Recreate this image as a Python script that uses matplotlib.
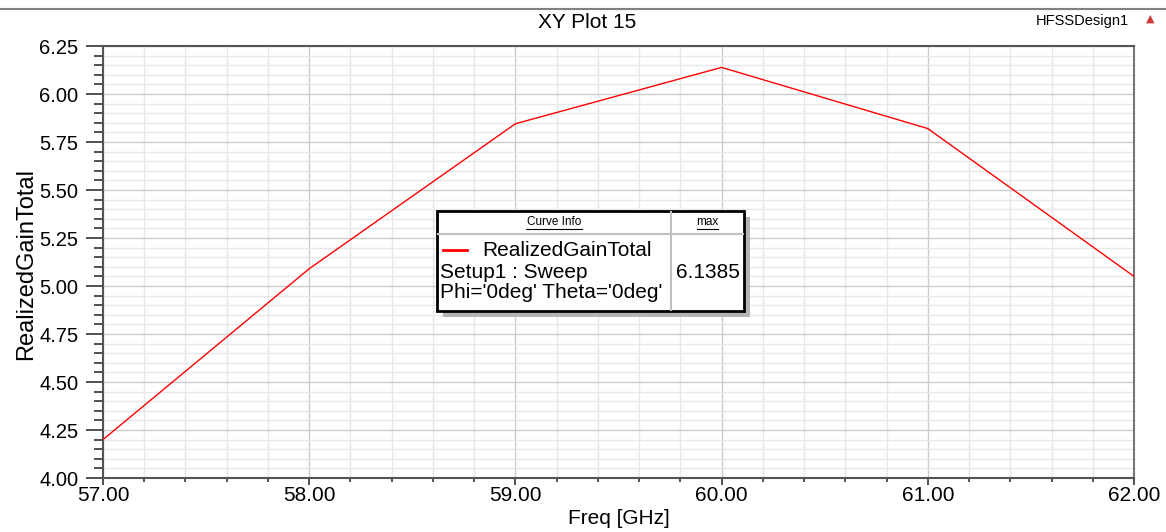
import numpy as np
import matplotlib
matplotlib.use("Agg")
import matplotlib.pyplot as plt
from matplotlib.patches import Rectangle
from matplotlib.lines import Line2D
from matplotlib.ticker import FormatStrFormatter, MultipleLocator

# ---- data ----
freq_ghz = [57.0, 58.0, 59.0, 60.0, 61.0, 62.0]
realized_gain = [4.20, 5.09, 5.845, 6.1385, 5.82, 5.05]
curve_name = "RealizedGainTotal"
setup_text = "Setup1 : Sweep"
var_text = "Phi='0deg' Theta='0deg'"
max_value = "6.1385"

plt.rcParams['font.family'] = ['Liberation Sans', 'DejaVu Sans']

W, H = 1166, 532
fig = plt.figure(figsize=(W / 100, H / 100), dpi=100)
fig.patch.set_facecolor('white')


def fx(x):
    return x / W


def fy(y):
    return 1 - y / H


ax = fig.add_axes([fx(103), fy(478), (1134 - 103) / W, (478 - 46) / H])
ax.plot(freq_ghz, realized_gain, color='#ff0000', lw=1.0, zorder=3)

ax.set_xlim(57, 62)
ax.set_ylim(4.0, 6.25)
ax.xaxis.set_major_locator(MultipleLocator(1.0))
ax.xaxis.set_minor_locator(MultipleLocator(0.2))
ax.yaxis.set_major_locator(MultipleLocator(0.25))
ax.yaxis.set_minor_locator(MultipleLocator(0.05))
ax.xaxis.set_major_formatter(FormatStrFormatter('%.2f'))
ax.yaxis.set_major_formatter(FormatStrFormatter('%.2f'))

ax.set_axisbelow(True)
ax.grid(which='major', color='#cccccc', lw=1.0)
ax.grid(which='minor', color='#e8e8e8', lw=1.0)

ax.tick_params(axis='y', which='major', length=12.2, width=1.2, pad=5.5,
               labelsize=14.5, color='#333333', direction='out')
ax.tick_params(axis='y', which='minor', length=6.5, width=1.2,
               color='#333333', direction='out')
ax.tick_params(axis='x', which='major', length=5, width=1.2, pad=1,
               labelsize=15, color='#333333', direction='out')
ax.tick_params(axis='x', which='minor', length=3, width=1.2,
               color='#333333', direction='out')

for side in ['left', 'bottom', 'top']:
    ax.spines[side].set_color('#555555')
    ax.spines[side].set_linewidth(1.5)
ax.spines['right'].set_color('#777777')
ax.spines['right'].set_linewidth(1.5)

ax.set_xlabel('Freq [GHz]', fontsize=15)
ax.set_ylabel('RealizedGainTotal', fontsize=17)
ax.yaxis.set_label_coords(-0.064, 0.495)
ax.xaxis.set_label_coords(0.5, -0.072)

# header / frame
fig.add_artist(Line2D([0, 1], [fy(9), fy(9)], transform=fig.transFigure,
                      color='#808080', lw=1.5))
fig.text(fx(587), fy(23), 'XY Plot 15', ha='center', va='center', fontsize=15)
fig.text(fx(1082), fy(21), 'HFSSDesign1', ha='center', va='center', fontsize=10.5)
fig.text(fx(1150), fy(19), '\u25B2', ha='center', va='center', fontsize=8,
         color='#d03a3a', family='DejaVu Sans')

# legend box (curve info)
bx0, bx1, by0, by1 = 437, 744, 211, 311
div_x, hdr_y = 671, 234
fig.add_artist(Rectangle((fx(bx0 + 6), fy(by1 + 6)), (bx1 - bx0) / W, (by1 - by0) / H,
                         transform=fig.transFigure, facecolor='#b4b4b4',
                         edgecolor='none', zorder=5))
fig.add_artist(Rectangle((fx(bx0), fy(by1)), (bx1 - bx0) / W, (by1 - by0) / H,
                         transform=fig.transFigure, facecolor='white',
                         edgecolor='black', lw=2.0, zorder=6))
fig.add_artist(Line2D([fx(div_x), fx(div_x)], [fy(by0 + 1), fy(by1 - 1)],
                      transform=fig.transFigure, color='#c0c0c0', lw=1.5, zorder=7))
fig.add_artist(Line2D([fx(bx0 + 1), fx(bx1 - 1)], [fy(hdr_y), fy(hdr_y)],
                      transform=fig.transFigure, color='#c0c0c0', lw=1.5, zorder=7))

fig.text(fx(554), fy(222.5), 'Curve Info', ha='center', va='center', fontsize=8.5, zorder=8)
fig.add_artist(Line2D([fx(526), fx(582)], [fy(229), fy(229)],
                      transform=fig.transFigure, color='black', lw=0.8, zorder=8))
fig.text(fx(707.5), fy(222.5), 'max', ha='center', va='center', fontsize=8.5, zorder=8)
fig.add_artist(Line2D([fx(697), fx(718)], [fy(229), fy(229)],
                      transform=fig.transFigure, color='black', lw=0.8, zorder=8))

fig.add_artist(Line2D([fx(443), fx(467)], [fy(250), fy(250)],
                      transform=fig.transFigure, color='#ff0000', lw=2.0, zorder=8))
fig.text(fx(482), fy(250), curve_name, ha='left', va='center', fontsize=15, zorder=8)
fig.text(fx(440), fy(272), setup_text, ha='left', va='center', fontsize=15, zorder=8)
fig.text(fx(440), fy(293), var_text, ha='left', va='center', fontsize=15, zorder=8)
fig.text(fx(707.5), fy(272), max_value, ha='center', va='center', fontsize=15, zorder=8)

fig.savefig('out.png', dpi=100)
